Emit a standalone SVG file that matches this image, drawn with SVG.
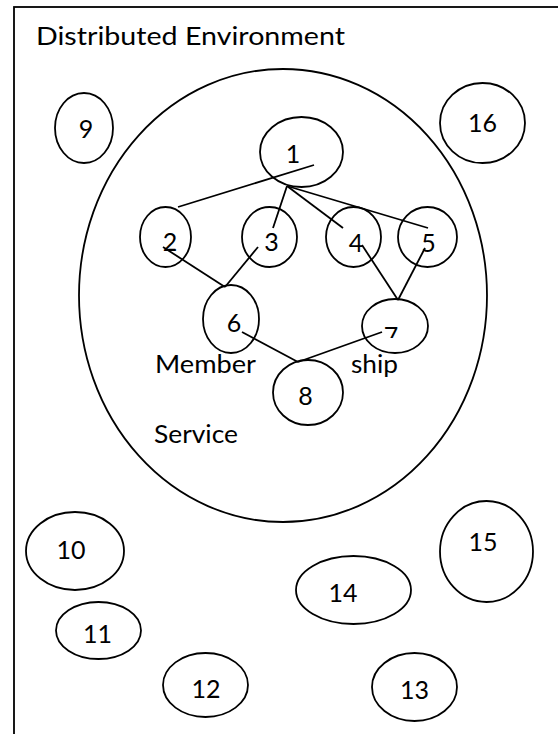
<svg xmlns="http://www.w3.org/2000/svg" width="558" height="734" viewBox="0 0 558 734">
  <style>
    .shape { fill: none; stroke: #000; stroke-width: 1.8; }
    .edge { stroke: #000; stroke-width: 1.8; fill: none; }
    .lbl { font-family: Lato, "Liberation Sans", sans-serif; font-size: 25px; fill: #000; }
    .num { text-anchor: middle; }
  </style>
  <defs>
    <clipPath id="clip7">
      <rect x="370" y="300" width="50" height="38"/>
    </clipPath>
  </defs>
  <rect width="558" height="734" fill="#fff"/>

  <!-- environment frame -->
  <g id="environment">
    <rect class="shape" x="14" y="7" width="560" height="740"/>
    <text class="lbl" x="36" y="45" textLength="309" lengthAdjust="spacingAndGlyphs">Distributed Environment</text>
  </g>

  <!-- membership service boundary -->
  <g id="membership-service">
    <ellipse class="shape" cx="283" cy="295.5" rx="204" ry="226.5"/>
    <text class="lbl" x="155" y="373" textLength="101" lengthAdjust="spacingAndGlyphs">Member</text>
    <text class="lbl" x="351" y="373" textLength="47" lengthAdjust="spacingAndGlyphs">ship</text>
    <text class="lbl" x="154" y="443" textLength="84" lengthAdjust="spacingAndGlyphs">Service</text>
  </g>

  <!-- connectors -->
  <g id="connectors">
    <line class="edge" x1="314" y1="165" x2="178" y2="207"/>
    <line class="edge" x1="287" y1="186" x2="273" y2="228"/>
    <line class="edge" x1="287" y1="186" x2="343" y2="228"/>
    <line class="edge" x1="287" y1="186" x2="428" y2="228"/>
    <line class="edge" x1="163" y1="247" x2="225" y2="287"/>
    <line class="edge" x1="258" y1="247" x2="225" y2="287"/>
    <line class="edge" x1="362" y1="245" x2="398" y2="300"/>
    <line class="edge" x1="425" y1="248" x2="398" y2="300"/>
    <line class="edge" x1="242" y1="332" x2="298" y2="362"/>
    <line class="edge" x1="382" y1="332" x2="298" y2="362"/>
  </g>

  <!-- member nodes -->
  <g id="node-1">
    <ellipse class="shape" cx="301.5" cy="152" rx="41.5" ry="35"/>
    <text class="lbl num" x="293" y="163">1</text>
  </g>
  <g id="node-2">
    <ellipse class="shape" cx="165.5" cy="237" rx="25.5" ry="30"/>
    <text class="lbl num" x="170" y="251">2</text>
  </g>
  <g id="node-3">
    <ellipse class="shape" cx="269.5" cy="237" rx="27.5" ry="30"/>
    <text class="lbl num" x="271.5" y="251">3</text>
  </g>
  <g id="node-4">
    <ellipse class="shape" cx="353.5" cy="237" rx="27.5" ry="30"/>
    <text class="lbl num" x="356" y="252">4</text>
  </g>
  <g id="node-5">
    <ellipse class="shape" cx="427.5" cy="237" rx="29.5" ry="30"/>
    <text class="lbl num" x="428.5" y="252">5</text>
  </g>
  <g id="node-6">
    <ellipse class="shape" cx="231" cy="319" rx="28" ry="34"/>
    <text class="lbl num" x="234" y="332">6</text>
  </g>
  <g id="node-7">
    <ellipse class="shape" cx="395" cy="326" rx="33" ry="27"/>
    <text class="lbl num" x="391" y="345" clip-path="url(#clip7)">7</text>
  </g>
  <g id="node-8">
    <ellipse class="shape" cx="308" cy="392.5" rx="35" ry="32.5"/>
    <text class="lbl num" x="305.5" y="405">8</text>
  </g>

  <!-- outside nodes -->
  <g id="node-9">
    <ellipse class="shape" cx="84" cy="128" rx="29" ry="35"/>
    <text class="lbl num" x="86" y="138">9</text>
  </g>
  <g id="node-16">
    <ellipse class="shape" cx="482.5" cy="123" rx="42.5" ry="40"/>
    <text class="lbl num" x="482.5" y="132">16</text>
  </g>
  <g id="node-10">
    <ellipse class="shape" cx="75" cy="551" rx="49" ry="39"/>
    <text class="lbl num" x="71" y="559">10</text>
  </g>
  <g id="node-11">
    <ellipse class="shape" cx="98.5" cy="630.5" rx="42.5" ry="28.5"/>
    <text class="lbl num" x="97.5" y="643">11</text>
  </g>
  <g id="node-12">
    <ellipse class="shape" cx="205.5" cy="685" rx="42.5" ry="32"/>
    <text class="lbl num" x="206" y="698">12</text>
  </g>
  <g id="node-13">
    <ellipse class="shape" cx="414.5" cy="687" rx="42.5" ry="34"/>
    <text class="lbl num" x="414.5" y="699">13</text>
  </g>
  <g id="node-14">
    <ellipse class="shape" cx="353.5" cy="590" rx="57.5" ry="34"/>
    <text class="lbl num" x="343" y="602">14</text>
  </g>
  <g id="node-15">
    <ellipse class="shape" cx="486.5" cy="551.5" rx="46.5" ry="50.5"/>
    <text class="lbl num" x="483" y="551">15</text>
  </g>
</svg>
